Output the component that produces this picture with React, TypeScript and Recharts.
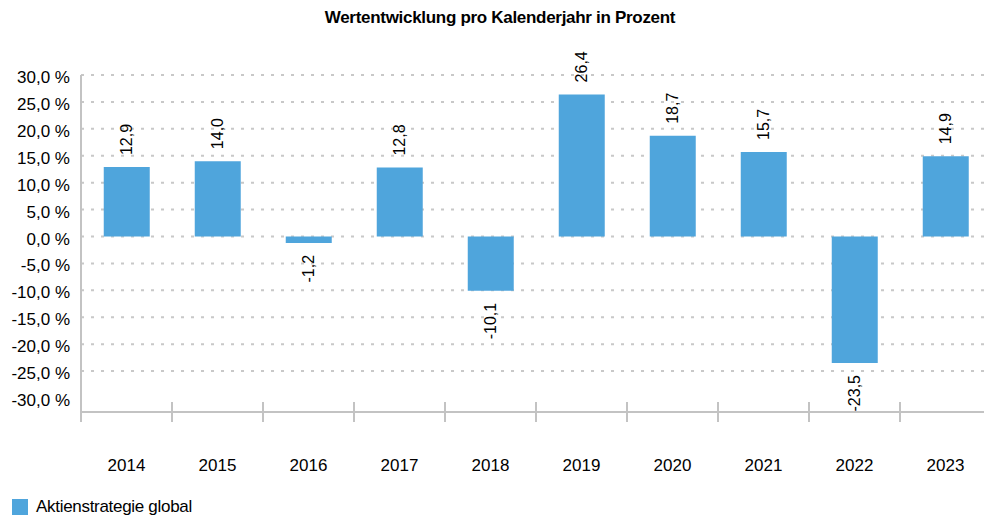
import { Bar, BarChart, CartesianGrid, LabelList, XAxis, YAxis } from "recharts";

const years = ["2014", "2015", "2016", "2017", "2018", "2019", "2020", "2021", "2022", "2023"];
const returns = [12.9, 14.0, -1.2, 12.8, -10.1, 26.4, 18.7, 15.7, -23.5, 14.9];
const yTicks = [-30, -25, -20, -15, -10, -5, 0, 5, 10, 15, 20, 25, 30];
const gridValues = yTicks.filter((t) => t > -30);

const seriesName = "Aktienstrategie global";
const barColor = "#4fa5dc";
const axisColor = "#c3c3c3";
const font = "'Liberation Sans', Arial, sans-serif";

const chartWidth = 1000;
const chartHeight = 517;
const margin = { top: 75, right: 9, bottom: 0, left: 0 };
const yAxisWidth = 81;
const bandWidth = (chartWidth - margin.left - margin.right - yAxisWidth) / years.length;

const chartData = years.map((year, i) => ({ year, value: returns[i] }));

const fmt = (v: number) => v.toFixed(1).replace(".", ",");

function YTick({ x, y, payload }: any) {
	return (
		<text x={x} y={y} dy={8} textAnchor="end" fontSize={17} fontFamily={font} fill="#000">
			{`${fmt(payload.value)} %`}
		</text>
	);
}

function XTick({ x, y, payload, index }: any) {
	const last = index === years.length - 1;
	return (
		<g>
			<line x1={x - bandWidth / 2} x2={x - bandWidth / 2} y1={y - 10} y2={y + 10} stroke={axisColor} strokeWidth={2} />
			{last && (
				<line x1={x + bandWidth / 2} x2={x + bandWidth / 2} y1={y - 10} y2={y + 10} stroke={axisColor} strokeWidth={2} />
			)}
			<text x={x} y={y + 59} textAnchor="middle" fontSize={17} fontFamily={font} fill="#000">
				{payload.value}
			</text>
		</g>
	);
}

function ValueLabel({ x, y, width, height, value }: any) {
	const cx = x + width / 2;
	const neg = value < 0;
	// height can come through negative, so take the real top / bottom edges
	const top = Math.min(y, y + height);
	const bottom = Math.max(y, y + height);
	const ty = neg ? bottom + 12 : top - 12;
	return (
		<text
			x={cx}
			y={ty}
			transform={`rotate(-90 ${cx} ${ty})`}
			textAnchor={neg ? "end" : "start"}
			dominantBaseline="central"
			fontSize={16}
			fontFamily={font}
			fill="#000"
		>
			{fmt(value)}
		</text>
	);
}

export default function App() {
	return (
		<div style={{ position: "relative", width: 984, height: 517, overflow: "hidden", fontFamily: font }}>
			<style>{"body{margin:0}"}</style>
			<div
				style={{
					position: "absolute",
					top: 8,
					left: 0,
					width: 1000,
					textAlign: "center",
					fontWeight: "bold",
					fontSize: 17,
					letterSpacing: -0.3,
					color: "#000",
				}}
			>
				Wertentwicklung pro Kalenderjahr in Prozent
			</div>
			<BarChart width={chartWidth} height={chartHeight} data={chartData} margin={margin} barCategoryGap="25%">
				<CartesianGrid
					vertical={false}
					horizontalValues={gridValues}
					stroke="#c8c8c8"
					strokeWidth={2}
					strokeDasharray="3 7"
				/>
				<XAxis
					dataKey="year"
					height={105}
					tick={<XTick />}
					tickLine={false}
					tickSize={0}
					tickMargin={0}
					interval={0}
					axisLine={{ stroke: axisColor, strokeWidth: 2 }}
				/>
				<YAxis
					width={yAxisWidth}
					domain={[-32.6, 30]}
					ticks={yTicks}
					allowDataOverflow
					tick={<YTick />}
					tickLine={false}
					tickSize={0}
					tickMargin={11}
					axisLine={{ stroke: axisColor, strokeWidth: 2 }}
				/>
				<Bar dataKey="value" name={seriesName} fill={barColor} isAnimationActive={false}>
					<LabelList dataKey="value" content={<ValueLabel />} />
				</Bar>
			</BarChart>
			<div style={{ position: "absolute", left: 12, top: 497, display: "flex", alignItems: "center" }}>
				<div style={{ width: 16, height: 16, background: barColor, marginRight: 8 }} />
				<span style={{ fontSize: 17, color: "#000", letterSpacing: -0.3 }}>{seriesName}</span>
			</div>
		</div>
	);
}
